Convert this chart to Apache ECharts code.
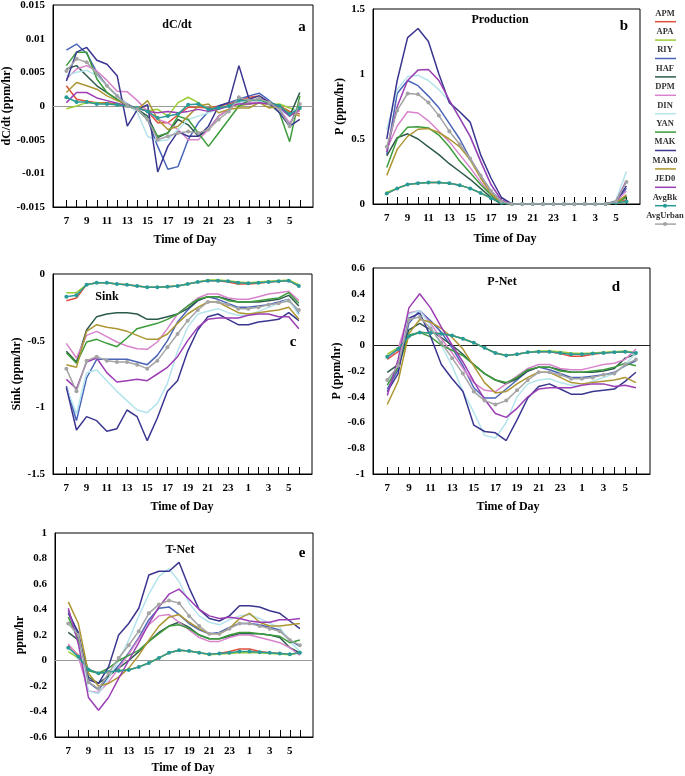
<!DOCTYPE html>
<html><head><meta charset="utf-8">
<script src="https://cdn.jsdelivr.net/npm/echarts@6/dist/echarts.min.js"></script>
<style>html,body{margin:0;padding:0;background:#fff}#c{width:685px;height:776px}</style>
</head><body><div id="c"></div>
<script>
// hour of day, 24 == midnight (0), 30 == 6 am
const hours = [7,8,9,10,11,12,13,14,15,16,17,18,19,20,21,22,23,24,25,26,27,28,29,30];
const hourLabelValues = [7,9,11,13,15,17,19,21,23,25,27,29];
const sites = ['APM','APA','RIY','HAF','DPM','DIN','YAN','MAK','MAK0','JED0','AvgBk','AvgUrban'];
const siteColors = ['#e0503e','#9ccc34','#4a64b8','#2d5a4c','#d884cc','#b4e4ec','#3c9c3c','#3a3690','#ad9632','#9c3eb4','#2a9a96','#a4a4a4'];

// panel a: dC/dt (ppm/hr), rows follow `sites`
const dcdtValues = [
 [0.003,0.001,0.0007,0.0005,0.0005,0.0003,0.0,-0.0003,-0.0008,-0.0025,-0.0025,-0.0013,-0.0002,-0.0002,-0.0003,0.0,0.0003,0.0008,0.0013,0.0015,0.0005,0.0,-0.0008,-0.0012],
 [-0.0004,0.0,0.0005,0.0005,0.0003,0.0002,0.0,-0.0002,-0.0007,-0.0005,-0.0015,0.0005,0.0013,0.0005,-0.0005,-0.0003,0.0,0.0,0.0003,0.0005,0.0002,0.0003,-0.0003,-0.0008],
 [0.0083,0.0092,0.0078,0.005,0.003,0.0015,0.0003,-0.0005,-0.002,-0.006,-0.0094,-0.009,-0.005,-0.0025,-0.0008,0.0,0.0005,0.001,0.0015,0.0019,0.0008,-0.0005,-0.0028,0.0005],
 [0.0055,0.006,0.0045,0.003,0.002,0.001,0.0,-0.0005,-0.0015,-0.0047,-0.004,-0.002,-0.0028,-0.0045,-0.0035,-0.0015,-0.0005,0.0008,0.0008,0.0008,0.0005,0.0,-0.0015,0.002],
 [0.004,0.0055,0.006,0.0052,0.0038,0.0022,0.0021,0.0008,-0.0008,-0.002,-0.0025,-0.0035,-0.005,-0.005,-0.0035,-0.0015,-0.0005,0.0005,0.0005,0.0005,0.0003,-0.0005,-0.0025,-0.0005],
 [0.0045,0.005,0.0053,0.0045,0.003,0.0015,0.0002,-0.001,-0.0045,-0.0052,-0.005,-0.0035,-0.002,-0.0015,-0.001,-0.0005,0.0,0.0005,0.0008,0.0008,0.0003,-0.0005,-0.0015,0.0003],
 [0.006,0.008,0.008,0.004,0.002,0.001,0.0,-0.0005,-0.002,-0.0045,-0.004,-0.0015,-0.002,-0.004,-0.006,-0.004,-0.002,0.0,0.0008,0.001,0.0003,-0.001,-0.0053,0.0015],
 [0.0037,0.008,0.0087,0.0068,0.0062,0.0045,-0.003,-0.0005,0.0002,-0.0098,-0.006,-0.0038,-0.0045,-0.0045,-0.003,0.0,0.0005,0.006,0.001,0.0015,0.0005,-0.001,-0.003,-0.002],
 [0.002,0.0035,0.003,0.0025,0.0015,0.0008,0.0002,-0.0005,0.0008,-0.002,-0.0035,-0.003,-0.0015,0.0,0.0003,-0.001,-0.0005,-0.0003,-0.0003,0.0005,-0.0003,0.0,-0.001,-0.0015],
 [0.0005,0.002,0.002,0.0012,0.0008,0.0004,0.0,-0.0003,-0.0008,-0.001,-0.0008,-0.001,-0.0008,-0.0005,-0.0008,-0.0005,0.0,0.0003,0.0003,0.0005,0.0003,-0.0002,-0.0015,-0.0005],
 [0.0013,0.0006,0.0006,0.0003,0.0003,0.0002,0.0,-0.0003,-0.0008,-0.0018,-0.0015,-0.0012,0.0002,0.0003,-0.0005,-0.0003,0.0,0.0008,0.0008,0.001,0.0005,0.0,-0.0012,-0.0003],
 [0.0052,0.007,0.0065,0.0048,0.003,0.0015,0.0,-0.0005,-0.002,-0.005,-0.0045,-0.004,-0.0038,-0.004,-0.0035,-0.002,-0.0008,0.0013,0.0008,0.0011,0.0005,-0.0005,-0.003,0.0003]
];

// panel b: Production (ppm/hr)
const prodValues = [
 [0.08,0.12,0.15,0.16,0.165,0.165,0.16,0.145,0.12,0.085,0.045,0.01,0,0,0,0,0,0,0,0,0,0,0.01,0.03],
 [0.09,0.12,0.15,0.16,0.165,0.165,0.16,0.145,0.12,0.085,0.045,0.01,0,0,0,0,0,0,0,0,0,0,0.01,0.02],
 [0.38,0.85,0.95,0.91,0.83,0.74,0.62,0.5,0.35,0.22,0.1,0.02,0,0,0,0,0,0,0,0,0,0,0.02,0.12],
 [0.37,0.51,0.54,0.5,0.44,0.38,0.31,0.25,0.19,0.12,0.05,0.0,0,0,0,0,0,0,0,0,0,0,0.01,0.06],
 [0.42,0.6,0.71,0.7,0.64,0.56,0.48,0.38,0.28,0.17,0.07,0.01,0,0,0,0,0,0,0,0,0,0,0.02,0.1],
 [0.57,0.88,0.98,0.99,0.95,0.88,0.79,0.66,0.52,0.33,0.15,0.03,0,0,0,0,0,0,0,0,0,0,0.03,0.25],
 [0.28,0.5,0.59,0.595,0.585,0.53,0.44,0.33,0.24,0.15,0.07,0.01,0,0,0,0,0,0,0,0,0,0,0.01,0.05],
 [0.5,0.95,1.28,1.35,1.25,1.0,0.78,0.71,0.63,0.38,0.2,0.05,0,0,0,0,0,0,0,0,0,0,0.02,0.14],
 [0.22,0.42,0.52,0.575,0.58,0.55,0.5,0.44,0.34,0.2,0.08,0.01,0,0,0,0,0,0,0,0,0,0,0.01,0.07],
 [0.4,0.75,0.95,1.03,1.035,0.95,0.8,0.66,0.52,0.33,0.15,0.03,0,0,0,0,0,0,0,0,0,0,0.02,0.18],
 [0.08,0.12,0.15,0.16,0.165,0.165,0.16,0.145,0.12,0.085,0.045,0.01,0,0,0,0,0,0,0,0,0,0,0.01,0.02],
 [0.44,0.72,0.85,0.845,0.78,0.68,0.56,0.46,0.35,0.22,0.1,0.02,0,0,0,0,0,0,0,0,0,0,0.02,0.17]
];

// panel c: Sink (ppm/hr)
const sinkValues = [
 [-0.2,-0.18,-0.08,-0.065,-0.065,-0.075,-0.08,-0.09,-0.1,-0.1,-0.095,-0.09,-0.075,-0.06,-0.05,-0.05,-0.06,-0.075,-0.075,-0.07,-0.06,-0.055,-0.05,-0.09],
 [-0.14,-0.14,-0.08,-0.065,-0.065,-0.075,-0.08,-0.09,-0.1,-0.1,-0.095,-0.09,-0.075,-0.06,-0.045,-0.045,-0.05,-0.06,-0.065,-0.06,-0.055,-0.05,-0.045,-0.08],
 [-0.84,-1.1,-0.78,-0.64,-0.64,-0.64,-0.64,-0.66,-0.68,-0.61,-0.5,-0.36,-0.27,-0.2,-0.17,-0.19,-0.22,-0.25,-0.25,-0.24,-0.23,-0.21,-0.19,-0.3],
 [-0.58,-0.66,-0.42,-0.32,-0.3,-0.29,-0.29,-0.3,-0.34,-0.34,-0.32,-0.3,-0.26,-0.2,-0.17,-0.17,-0.19,-0.21,-0.21,-0.21,-0.2,-0.19,-0.16,-0.24],
 [-0.52,-0.63,-0.46,-0.43,-0.47,-0.51,-0.54,-0.56,-0.565,-0.51,-0.41,-0.3,-0.24,-0.18,-0.15,-0.15,-0.18,-0.19,-0.19,-0.17,-0.15,-0.14,-0.13,-0.2],
 [-0.85,-1.05,-0.74,-0.72,-0.8,-0.88,-0.95,-1.02,-1.04,-0.97,-0.82,-0.58,-0.4,-0.3,-0.28,-0.26,-0.29,-0.31,-0.31,-0.28,-0.25,-0.22,-0.19,-0.31],
 [-0.59,-0.67,-0.51,-0.49,-0.52,-0.545,-0.48,-0.41,-0.39,-0.37,-0.34,-0.3,-0.24,-0.19,-0.17,-0.17,-0.2,-0.21,-0.21,-0.2,-0.19,-0.18,-0.14,-0.22],
 [-0.85,-1.17,-1.07,-1.1,-1.18,-1.16,-1.02,-1.07,-1.25,-1.08,-0.88,-0.8,-0.58,-0.42,-0.32,-0.3,-0.34,-0.38,-0.38,-0.36,-0.35,-0.34,-0.29,-0.35],
 [-0.68,-0.7,-0.43,-0.38,-0.4,-0.41,-0.43,-0.46,-0.49,-0.49,-0.45,-0.37,-0.3,-0.25,-0.21,-0.21,-0.25,-0.29,-0.3,-0.29,-0.28,-0.27,-0.25,-0.34],
 [-0.79,-0.86,-0.66,-0.63,-0.74,-0.81,-0.8,-0.79,-0.8,-0.75,-0.7,-0.62,-0.5,-0.4,-0.34,-0.33,-0.33,-0.33,-0.31,-0.3,-0.3,-0.32,-0.32,-0.41],
 [-0.17,-0.16,-0.08,-0.065,-0.065,-0.075,-0.08,-0.09,-0.1,-0.1,-0.095,-0.09,-0.075,-0.06,-0.05,-0.05,-0.055,-0.065,-0.07,-0.065,-0.06,-0.055,-0.05,-0.09],
 [-0.71,-0.88,-0.65,-0.62,-0.65,-0.66,-0.66,-0.68,-0.71,-0.65,-0.55,-0.45,-0.35,-0.27,-0.21,-0.21,-0.23,-0.26,-0.26,-0.25,-0.23,-0.22,-0.2,-0.27]
];

// panel d: P-Net (ppm/hr)
const pnetValues = [
 [-0.11,-0.05,0.07,0.1,0.095,0.09,0.075,0.05,0.02,-0.02,-0.06,-0.08,-0.07,-0.055,-0.05,-0.05,-0.065,-0.085,-0.085,-0.07,-0.06,-0.055,-0.05,-0.06],
 [-0.07,-0.02,0.07,0.1,0.095,0.09,0.075,0.05,0.02,-0.02,-0.06,-0.08,-0.07,-0.055,-0.045,-0.045,-0.05,-0.06,-0.065,-0.06,-0.055,-0.05,-0.045,-0.06],
 [-0.34,-0.19,0.17,0.27,0.19,0.1,-0.02,-0.16,-0.33,-0.41,-0.41,-0.34,-0.27,-0.2,-0.17,-0.19,-0.22,-0.25,-0.25,-0.24,-0.23,-0.21,-0.16,-0.12],
 [-0.21,-0.15,0.12,0.17,0.12,0.06,0.0,-0.07,-0.15,-0.22,-0.27,-0.3,-0.26,-0.2,-0.17,-0.17,-0.19,-0.21,-0.21,-0.21,-0.2,-0.18,-0.1,-0.07],
 [-0.1,-0.03,0.25,0.27,0.17,0.05,-0.06,-0.18,-0.29,-0.35,-0.36,-0.3,-0.24,-0.18,-0.15,-0.15,-0.18,-0.19,-0.19,-0.17,-0.15,-0.14,-0.11,-0.03],
 [-0.28,-0.17,0.24,0.27,0.15,0.0,-0.16,-0.36,-0.52,-0.7,-0.72,-0.6,-0.4,-0.3,-0.27,-0.26,-0.29,-0.31,-0.31,-0.28,-0.25,-0.22,-0.15,-0.06],
 [-0.31,-0.17,0.08,0.1,0.065,0.0,-0.04,-0.08,-0.15,-0.22,-0.27,-0.29,-0.25,-0.19,-0.17,-0.17,-0.2,-0.21,-0.21,-0.2,-0.19,-0.17,-0.14,-0.16],
 [-0.36,-0.22,0.21,0.25,0.07,-0.15,-0.26,-0.36,-0.62,-0.67,-0.68,-0.74,-0.58,-0.41,-0.32,-0.3,-0.34,-0.38,-0.38,-0.36,-0.35,-0.34,-0.28,-0.21],
 [-0.46,-0.28,0.09,0.2,0.18,0.13,0.06,-0.03,-0.16,-0.29,-0.37,-0.36,-0.3,-0.25,-0.21,-0.21,-0.25,-0.29,-0.3,-0.29,-0.28,-0.27,-0.25,-0.29],
 [-0.39,-0.11,0.29,0.4,0.29,0.14,0.0,-0.13,-0.28,-0.42,-0.53,-0.56,-0.49,-0.4,-0.34,-0.33,-0.33,-0.33,-0.31,-0.3,-0.3,-0.32,-0.31,-0.33],
 [-0.09,-0.03,0.07,0.1,0.095,0.09,0.075,0.05,0.02,-0.02,-0.06,-0.08,-0.07,-0.055,-0.05,-0.05,-0.06,-0.07,-0.07,-0.065,-0.06,-0.055,-0.05,-0.06],
 [-0.27,-0.16,0.2,0.22,0.13,0.02,-0.1,-0.22,-0.36,-0.43,-0.46,-0.43,-0.35,-0.27,-0.21,-0.21,-0.23,-0.26,-0.26,-0.25,-0.23,-0.22,-0.15,-0.11]
];

// panel e: T-Net (ppm/hr)
const tnetValues = [
 [0.12,0.04,-0.07,-0.1,-0.09,-0.08,-0.075,-0.05,-0.02,0.02,0.06,0.08,0.075,0.06,0.05,0.055,0.07,0.09,0.09,0.07,0.06,0.055,0.05,0.06],
 [0.07,0.02,-0.07,-0.1,-0.09,-0.08,-0.075,-0.05,-0.02,0.02,0.06,0.08,0.075,0.06,0.045,0.05,0.055,0.06,0.06,0.06,0.055,0.05,0.045,0.06],
 [0.39,0.2,-0.17,-0.23,-0.13,-0.04,0.06,0.18,0.32,0.41,0.42,0.36,0.29,0.24,0.21,0.22,0.26,0.29,0.29,0.28,0.26,0.24,0.16,0.11],
 [0.22,0.16,-0.13,-0.18,-0.12,-0.06,0.0,0.07,0.15,0.22,0.27,0.3,0.26,0.2,0.17,0.17,0.19,0.21,0.21,0.21,0.2,0.18,0.1,0.06],
 [0.13,0.03,-0.24,-0.25,-0.17,-0.06,0.05,0.17,0.28,0.35,0.36,0.3,0.24,0.18,0.15,0.15,0.18,0.2,0.2,0.18,0.16,0.14,0.1,0.04],
 [0.3,0.18,-0.24,-0.26,-0.14,0.0,0.16,0.35,0.52,0.66,0.72,0.62,0.45,0.35,0.3,0.28,0.32,0.35,0.36,0.33,0.29,0.26,0.15,0.07],
 [0.34,0.17,-0.08,-0.1,-0.06,0.0,0.04,0.08,0.15,0.21,0.27,0.28,0.25,0.2,0.17,0.17,0.2,0.22,0.22,0.21,0.2,0.19,0.14,0.16],
 [0.37,0.22,-0.15,-0.18,-0.05,0.2,0.29,0.41,0.67,0.7,0.7,0.77,0.57,0.4,0.33,0.31,0.35,0.43,0.43,0.42,0.39,0.37,0.31,0.25],
 [0.46,0.29,-0.1,-0.2,-0.18,-0.13,-0.06,0.04,0.16,0.27,0.34,0.36,0.3,0.25,0.21,0.21,0.25,0.33,0.37,0.3,0.27,0.27,0.28,0.29],
 [0.41,0.13,-0.29,-0.39,-0.29,-0.14,0.0,0.14,0.29,0.42,0.52,0.56,0.48,0.4,0.35,0.33,0.34,0.33,0.31,0.3,0.3,0.32,0.32,0.33],
 [0.1,0.03,-0.07,-0.1,-0.09,-0.08,-0.075,-0.05,-0.02,0.02,0.06,0.08,0.075,0.06,0.05,0.055,0.06,0.07,0.07,0.065,0.06,0.055,0.05,0.06],
 [0.29,0.2,-0.17,-0.22,-0.1,0.02,0.12,0.23,0.37,0.44,0.47,0.45,0.35,0.27,0.21,0.21,0.25,0.29,0.29,0.27,0.25,0.23,0.16,0.12]
];

const panels = [
 {values: dcdtValues, grid:{left:53, top:5, width:260, height:202}, yMin:-0.015, yMax:0.015, yInt:0.005,
  yName:'dC/dt (ppm/hr)', nameGap:40, zero:'#999999', title:'dC/dt', tPos:[177,25], letter:'a', lPos:[302,27], xName:[185,240]},
 {values: prodValues, grid:{left:373, top:9, width:267, height:195}, yMin:0, yMax:1.5, yInt:0.5,
  yName:'P (ppm/hr)', nameGap:27, zero:null, title:'Production', tPos:[500,20], letter:'b', lPos:[624,26], xName:[505,239]},
 {values: sinkValues, grid:{left:53, top:274, width:259, height:200}, yMin:-1.5, yMax:0, yInt:0.5,
  yName:'Sink (ppm/hr)', nameGap:30, zero:null, title:'Sink', tPos:[107,297], letter:'c', lPos:[293,342], xName:[182,507]},
 {values: pnetValues, grid:{left:373, top:268, width:277, height:206}, yMin:-1, yMax:0.6, yInt:0.2,
  yName:'P (ppm/hr)', nameGap:30, zero:'#222222', title:'P-Net', tPos:[502,282], letter:'d', lPos:[616,287], xName:[508,507]},
 {values: tnetValues, grid:{left:55, top:533, width:258, height:204}, yMin:-0.6, yMax:1, yInt:0.2,
  yName:'ppm/hr', nameGap:28, zero:'#999999', title:'T-Net', tPos:[180,550], letter:'e', lPos:[302,553], xName:[183,768]}
];
const xMin = 5.68, xMax = 31.3;

const FONT = '"Liberation Serif","Times New Roman",serif';
const grids=[], xAxes=[], yAxes=[], series=[], graphics=[];
const fmtHour = v => String(v >= 24 ? v - 24 : v);

panels.forEach((p, pi) => {
  grids.push(Object.assign({show:true, borderColor:'#000', borderWidth:1, containLabel:false, outerBoundsMode:'none'}, p.grid));
  xAxes.push({type:'value', gridIndex:pi, min:xMin, max:xMax,
    axisLine:{show:true, onZero:false, lineStyle:{color:'#000', width:1}},
    axisTick:{show:true, inside:true, length:7, customValues:hours, lineStyle:{color:'#000', width:1}},
    axisLabel:{show:true, customValues:hourLabelValues, formatter:fmtHour, margin:9, color:'#000', fontFamily:FONT, fontWeight:'bold', fontSize:11},
    splitLine:{show:false}});
  yAxes.push({type:'value', gridIndex:pi, min:p.yMin, max:p.yMax, interval:p.yInt,
    axisLine:{show:true, onZero:false, lineStyle:{color:'#000', width:1}},
    axisTick:{show:false},
    axisLabel:{color:'#000', fontFamily:FONT, fontWeight:'bold', fontSize:11, margin:8},
    splitLine:{show:false},
    name:p.yName, nameLocation:'middle', nameRotate:90, nameGap:p.nameGap,
    nameTextStyle:{color:'#000', fontFamily:FONT, fontWeight:'bold', fontSize:12}});
  p.values.forEach((vals, si) => {
    const marker = sites[si] === 'AvgBk' || sites[si] === 'AvgUrban';
    const s = {type:'line', name:sites[si], xAxisIndex:pi, yAxisIndex:pi,
      data: hours.map((h, i) => [h, vals[i]]),
      showSymbol: marker, symbol:'circle', symbolSize:4, silent:true, animation:false,
      lineStyle:{color:siteColors[si], width:1.5}, itemStyle:{color:siteColors[si]}, z: marker ? 4 : 3};
    if (si === 0 && p.zero) {
      s.markLine = {silent:true, symbol:'none', animation:false, label:{show:false},
        lineStyle:{color:p.zero, width:1, type:'solid'}, data:[{yAxis:0}], z:1};
    }
    series.push(s);
  });
  const tf = 'bold 12px ' + FONT;
  graphics.push({type:'text', x:p.tPos[0], y:p.tPos[1], style:{text:p.title, font:tf, fill:'#000', textAlign:'center', textVerticalAlign:'middle'}});
  graphics.push({type:'text', x:p.lPos[0], y:p.lPos[1], style:{text:p.letter, font:'bold 15px ' + FONT, fill:'#000', textAlign:'center', textVerticalAlign:'middle'}});
  graphics.push({type:'text', x:p.xName[0], y:p.xName[1], style:{text:'Time of Day', font:'bold 12px ' + FONT, fill:'#000', textAlign:'center', textVerticalAlign:'middle'}});
});

// legend (text above a short line sample)
sites.forEach((name, i) => {
  const y = 13.3 + i * 18.4;
  graphics.push({type:'text', x:665, y:y, style:{text:name, font:'bold 8.5px ' + FONT, fill:'#333', textAlign:'center', textVerticalAlign:'middle'}});
  graphics.push({type:'line', shape:{x1:655, y1:y + 8.4, x2:676, y2:y + 8.4}, style:{stroke:siteColors[i], lineWidth:1.5}});
  if (name === 'AvgBk' || name === 'AvgUrban') {
    graphics.push({type:'circle', shape:{cx:665, cy:y + 8.4, r:2}, style:{fill:siteColors[i]}});
  }
});

const chart = echarts.init(document.getElementById('c'), null, {renderer:'canvas'});
chart.setOption({animation:false, backgroundColor:'#fff', grid:grids, xAxis:xAxes, yAxis:yAxes, series:series, graphic:{elements:graphics}});
</script></body></html>
